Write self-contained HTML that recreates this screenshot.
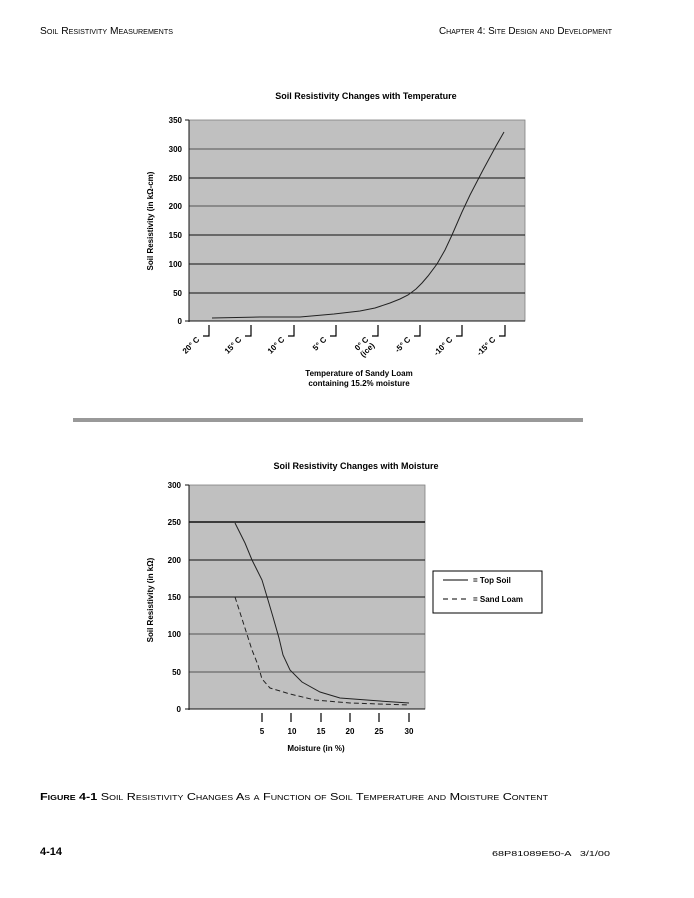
<!DOCTYPE html>
<html><head><meta charset="utf-8"><style>
body{margin:0;background:#fff}
svg{display:block;font-family:"Liberation Sans",sans-serif}
.sc{font-variant:small-caps}
</style></head><body>
<svg width="694" height="898" viewBox="0 0 694 898" xmlns="http://www.w3.org/2000/svg">
<text x="40" y="34" font-size="10" class="sc" textLength="133" lengthAdjust="spacingAndGlyphs">Soil Resistivity Measurements</text>
<text x="439" y="34" font-size="10" class="sc" textLength="173" lengthAdjust="spacingAndGlyphs">Chapter 4: Site Design and Development</text>

<!-- Chart 1 -->
<text x="366" y="99" font-size="9" font-weight="bold" text-anchor="middle">Soil Resistivity Changes with Temperature</text>
<rect x="189" y="120" width="336" height="201" fill="#c0c0c0" stroke="#808080" stroke-width="0.8"/>
<g stroke="#111" stroke-width="1">
<line x1="189" y1="149" x2="525" y2="149" stroke="#555"/>
<line x1="189" y1="178" x2="525" y2="178"/>
<line x1="189" y1="206" x2="525" y2="206" stroke="#555"/>
<line x1="189" y1="235" x2="525" y2="235"/>
<line x1="189" y1="264" x2="525" y2="264"/>
<line x1="189" y1="293" x2="525" y2="293"/>
<line x1="189" y1="120" x2="189" y2="322"/>
<line x1="185" y1="321" x2="525" y2="321"/>
<line x1="185" y1="120" x2="189" y2="120"/>
</g>
<g font-size="8" font-weight="bold" text-anchor="end">
<text x="182" y="123">350</text><text x="182" y="152">300</text><text x="182" y="181">250</text>
<text x="182" y="209">200</text><text x="182" y="238">150</text><text x="182" y="267">100</text>
<text x="182" y="296">50</text><text x="182" y="324">0</text>
</g>
<text transform="translate(153,221) rotate(-90)" font-size="8" font-weight="bold" text-anchor="middle">Soil Resistivity (in kΩ-cm)</text>
<path d="M212,318 L260,317 L300,317 L334,314 L360,311 L375,308 L390,303 L400,299 L408,295 L416,289 L422,283 L428,276 L437,264 L445,250 L452,235 L462,212 L470,195 L483,170 L496,146 L504,132" fill="none" stroke="#222" stroke-width="1"/>
<g stroke="#000" stroke-width="1.2" fill="none">
<path d="M209,325 V336 H203"/><path d="M251,325 V336 H245"/><path d="M294,325 V336 H288"/><path d="M336,325 V336 H330"/>
<path d="M378,325 V336 H372"/><path d="M420,325 V336 H414"/><path d="M462,325 V336 H456"/><path d="M505,325 V336 H499"/>
</g>
<g font-size="8" font-weight="bold" text-anchor="end">
<text transform="translate(200,340) rotate(-45)">20° C</text>
<text transform="translate(242,340) rotate(-45)">15° C</text>
<text transform="translate(285,340) rotate(-45)">10° C</text>
<text transform="translate(327,340) rotate(-45)">5° C</text>
<text transform="translate(369,340) rotate(-45)">0° C</text>
<text transform="translate(375,346) rotate(-45)">(ice)</text>
<text transform="translate(411,340) rotate(-45)">-5° C</text>
<text transform="translate(453,340) rotate(-45)">-10° C</text>
<text transform="translate(496,340) rotate(-45)">-15° C</text>
</g>
<text x="359" y="376" font-size="8" font-weight="bold" text-anchor="middle">Temperature of Sandy Loam</text>
<text x="359" y="386" font-size="8" font-weight="bold" text-anchor="middle">containing 15.2% moisture</text>

<rect x="73" y="418" width="510" height="4" fill="#999"/>

<!-- Chart 2 -->
<text x="356" y="469" font-size="9" font-weight="bold" text-anchor="middle">Soil Resistivity Changes with Moisture</text>
<rect x="189" y="485" width="236" height="224" fill="#c0c0c0" stroke="#808080" stroke-width="0.8"/>
<g stroke="#111" stroke-width="1">
<line x1="189" y1="522" x2="425" y2="522" stroke-width="1.5"/>
<line x1="189" y1="560" x2="425" y2="560"/>
<line x1="189" y1="597" x2="425" y2="597"/>
<line x1="189" y1="634" x2="425" y2="634" stroke="#555"/>
<line x1="189" y1="672" x2="425" y2="672" stroke="#555"/>
<line x1="189" y1="485" x2="189" y2="710"/>
<line x1="185" y1="709" x2="425" y2="709"/>
<line x1="185" y1="485" x2="189" y2="485"/>
</g>
<g font-size="8" font-weight="bold" text-anchor="end">
<text x="181" y="488">300</text><text x="181" y="525">250</text><text x="181" y="563">200</text>
<text x="181" y="600">150</text><text x="181" y="637">100</text><text x="181" y="675">50</text><text x="181" y="712">0</text>
</g>
<text transform="translate(153,600) rotate(-90)" font-size="8" font-weight="bold" text-anchor="middle">Soil Resistivity (in kΩ)</text>
<path d="M235,523 L245,543 L252,560 L258,572 L262,580 L268,600 L273,617 L279,638 L283,655 L290,670 L302,682 L320,692 L340,698 L380,701 L409,703" fill="none" stroke="#222" stroke-width="1"/>
<path d="M235,597 L244,625 L252,650 L258,665 L262,679 L270,688 L290,694 L315,700 L350,703 L409,705" fill="none" stroke="#222" stroke-width="1" stroke-dasharray="5,3"/>
<g stroke="#000" stroke-width="1.2">
<line x1="262" y1="713" x2="262" y2="722"/><line x1="291" y1="713" x2="291" y2="722"/><line x1="321" y1="713" x2="321" y2="722"/>
<line x1="350" y1="713" x2="350" y2="722"/><line x1="379" y1="713" x2="379" y2="722"/><line x1="409" y1="713" x2="409" y2="722"/>
</g>
<g font-size="8" font-weight="bold" text-anchor="middle">
<text x="262" y="734">5</text><text x="292" y="734">10</text><text x="321" y="734">15</text>
<text x="350" y="734">20</text><text x="379" y="734">25</text><text x="409" y="734">30</text>
</g>
<text x="316" y="751" font-size="8" font-weight="bold" text-anchor="middle">Moisture (in %)</text>
<rect x="433" y="571" width="109" height="42" fill="#fff" stroke="#000" stroke-width="1"/>
<line x1="443" y1="580" x2="468" y2="580" stroke="#000"/>
<line x1="443" y1="599" x2="468" y2="599" stroke="#000" stroke-dasharray="5,4"/>
<text x="473" y="583" font-size="8" font-weight="bold">= Top Soil</text>
<text x="473" y="602" font-size="8" font-weight="bold">= Sand Loam</text>

<text x="40" y="800" font-size="10" class="sc" textLength="508" lengthAdjust="spacingAndGlyphs"><tspan font-weight="bold">Figure 4-1</tspan>  Soil Resistivity Changes As a Function of Soil Temperature and Moisture Content</text>
<text x="40" y="855" font-size="11" font-weight="bold">4-14</text>
<text x="492" y="856" font-size="7.5" textLength="118" lengthAdjust="spacingAndGlyphs" xml:space="preserve">68P81089E50-A   3/1/00</text>
</svg>
</body></html>
